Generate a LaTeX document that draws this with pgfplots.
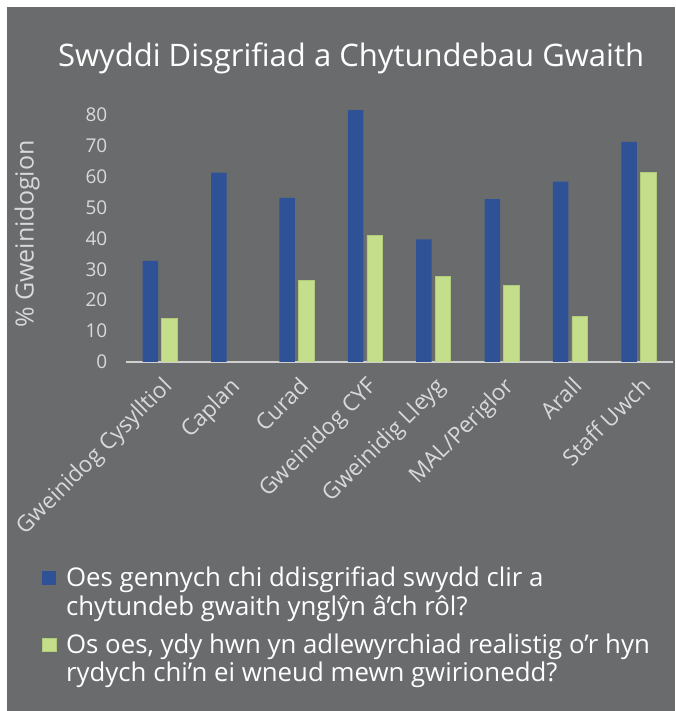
\documentclass[border=0pt]{standalone}
\usepackage{pgfplots}
\pgfplotsset{compat=1.18}
\usepackage{fontspec}
\setmainfont{Open Sans}
\definecolor{bg}{HTML}{6A6B6D}
\definecolor{cblue}{HTML}{2F5297}
\definecolor{cgreen}{HTML}{C5DE8C}
\definecolor{cgreenedge}{HTML}{B3CC7C}
\definecolor{tickc}{HTML}{D9D9D9}
\definecolor{axc}{HTML}{D0D0D0}
\begin{document}
\begin{tikzpicture}[x=1pt,y=1pt]
\useasboundingbox (0,0) rectangle (675,711);
\fill[white] (0,0) rectangle (675,711);
\fill[bg] (7,0) rectangle (675,704);
\node[white, anchor=base, font=\fontsize{31}{36}\selectfont] at (351,644) {Swyddi Disgrifiad a Chytundebau Gwaith};
\begin{axis}[
  at={(125.8pt,349pt)}, anchor=south west,
  scale only axis, width=547pt, height=262.65pt,
  xmin=-0.5, xmax=7.5, ymin=0, ymax=85,
  ybar=3.5pt, bar width=15.5pt,
  axis x line*=bottom, axis y line*=left,
  x axis line style={draw=axc, line width=1.6pt, -},
  y axis line style={draw=none},
  tick style={draw=none},
  ytick={0,10,...,80},
  xtick={0,...,7},
  xticklabels={Gweinidog Cysylltiol,Caplan,Curad,Gweinidog CYF,Gweinidig Lleyg,MAL/Periglor,Arall,Staff Uwch},
  yticklabel style={text=tickc, font=\fontsize{19}{22}\selectfont, xshift=-15pt},
  xticklabel style={text=tickc, font=\fontsize{22.5}{26}\selectfont, xshift=1pt, yshift=-9pt, rotate=45, anchor=north east, inner sep=0pt},
  /pgf/number format/assume math mode=true,
  every axis y label/.style={at={(rel axis cs:-0.1805,0.487)}, rotate=90, anchor=center, text=tickc, font=\fontsize{25}{28}\selectfont},
  ylabel={\% Gweinidogion},
  legend style={at={(rel axis cs:-0.153,-0.78)}, anchor=north west, draw=none, fill=none, text=white, inner sep=0pt, outer sep=0pt,
    font=\fontsize{25.8}{28.5}\selectfont, nodes={align=left, inner sep=0pt}, row sep=17pt, column sep=10pt},
  legend cell align=left,
  legend image code/.code={\fill[#1] (0pt,7pt) rectangle (13.5pt,20.5pt);},
]
\addplot[fill=cblue, draw=none] coordinates {(0,32.7) (1,61.3) (2,53.1) (3,81.5) (4,39.7) (5,52.7) (6,58.4) (7,71.2)};
\addplot[fill=cgreen, draw=cgreenedge, line width=0.5pt] coordinates {(0,14.0) (1,0) (2,26.4) (3,41.0) (4,27.7) (5,24.8) (6,14.7) (7,61.3)};
\legend{{Oes gennych chi ddisgrifiad swydd clir a\\chytundeb gwaith ynglŷn â’ch rôl?},{Os oes, ydy hwn yn adlewyrchiad realistig o’r hyn\\rydych chi’n ei wneud mewn gwirionedd?}}
\end{axis}
\end{tikzpicture}
\end{document}
